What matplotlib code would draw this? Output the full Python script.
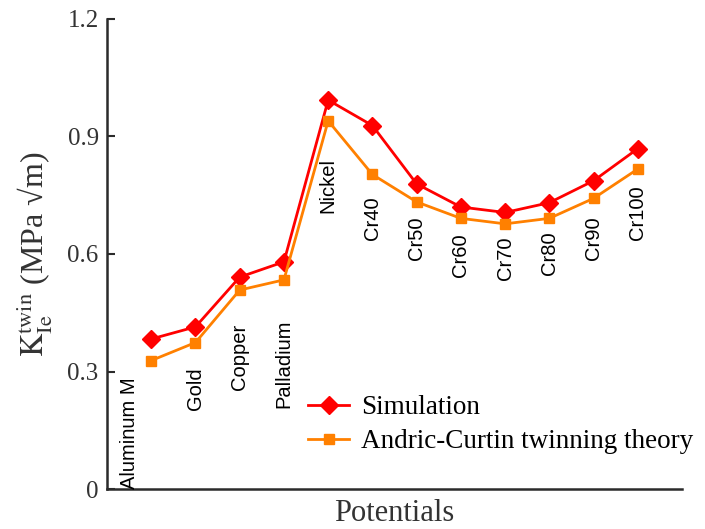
import matplotlib
matplotlib.use('Agg')
import matplotlib.pyplot as plt

plt.rcParams['font.family'] = ['Liberation Serif', 'DejaVu Serif']
plt.rcParams['mathtext.fontset'] = 'stix'

# Data
potentials = ['Aluminum M', 'Gold', 'Copper', 'Palladium', 'Nickel', 'Cr40',
              'Cr50', 'Cr60', 'Cr70', 'Cr80', 'Cr90', 'Cr100']
simulation = [0.383, 0.414, 0.541, 0.580, 0.993, 0.928,
              0.779, 0.720, 0.706, 0.731, 0.787, 0.869]
andric_curtin = [0.328, 0.374, 0.508, 0.534, 0.940, 0.803,
                 0.733, 0.691, 0.677, 0.691, 0.742, 0.817]
label_x = [0.5, 2, 3, 4, 5, 6, 7, 8, 9, 10, 11, 12]
label_bottom = [0.0, 0.202, 0.253, 0.207, 0.705, 0.636,
                0.585, 0.541, 0.534, 0.546, 0.585, 0.636]
yticks = [0, 0.3, 0.6, 0.9, 1.2]
ytick_labels = ['0', '0.3', '0.6', '0.9', '1.2']

x = list(range(1, len(potentials) + 1))

fig = plt.figure(figsize=(7.05, 5.29), dpi=100)
ax = fig.add_axes([0.1518, 0.0756, 0.8156, 0.8885])

ax.plot(x, simulation, color='#ff0000', lw=2, marker='D', markersize=9.5,
        label='Simulation')
ax.plot(x, andric_curtin, color='#ff8000', lw=2, marker='s', markersize=7.5,
        label='Andric-Curtin twinning theory')

for xi, yb, name in zip(label_x, label_bottom, potentials):
    ax.text(xi, yb, name, rotation=90, ha='center', va='bottom',
            fontsize=14.5, family=['Liberation Sans', 'DejaVu Sans'])

ax.set_xlim(0, 13)
ax.set_ylim(0, 1.2)
ax.set_xticks([])
ax.set_yticks(yticks)
ax.set_yticklabels(ytick_labels)
ax.tick_params(axis='y', direction='in', length=6, width=1.5,
               labelsize=18, colors='#2b2b2b', labelcolor='#333333', pad=6)
for side in ['top', 'right']:
    ax.spines[side].set_visible(False)
for side in ['left', 'bottom']:
    ax.spines[side].set_linewidth(1.8)
    ax.spines[side].set_color('#2b2b2b')

ax.set_xlabel('Potentials', fontsize=22, color='#333333', labelpad=7)
ax.set_ylabel(r'$\mathrm{K}_{\mathrm{Ie}}^{\mathrm{twin}}$ (MPa √m)',
              fontsize=23, color='#333333', labelpad=10)

ax.legend(loc='upper left', bbox_to_anchor=(0.35, 0.2), frameon=False,
          fontsize=19.5, handlelength=1.5, handletextpad=0.45,
          labelspacing=0.35, borderpad=0, borderaxespad=0)

plt.savefig('out.png', dpi=100)
